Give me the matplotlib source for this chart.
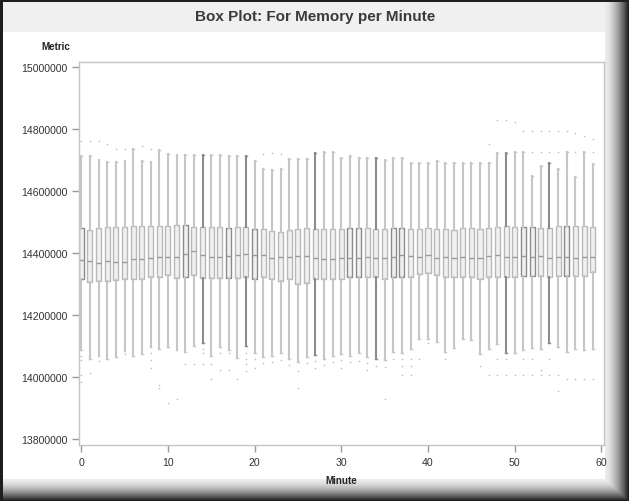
import matplotlib
matplotlib.use("Agg")
import matplotlib.pyplot as plt
import numpy as np

plt.rcParams['font.family'] = ['Liberation Sans', 'DejaVu Sans']

# Minute-by-minute memory statistics
minutes = list(range(60))

q3 = [14480000, 14475000, 14480000, 14483000, 14483000, 14485000, 14488000, 14488000, 14488000, 14488000,
      14488000, 14490000, 14490000, 14485000, 14485000, 14485000, 14485000, 14482000, 14483000, 14485000,
      14478000, 14477000, 14472000, 14470000, 14475000, 14477000, 14481000, 14477000, 14477000, 14477000,
      14477000, 14481000, 14481000, 14481000, 14477000, 14477000, 14481000, 14481000, 14477000, 14477000,
      14481000, 14477000, 14477000, 14475000, 14481000, 14481000, 14477000, 14481000, 14485000, 14488000,
      14485000, 14485000, 14483000, 14481000, 14481000, 14488000, 14488000, 14488000, 14488000, 14485000]

medians = [14377000, 14374000, 14370000, 14374000, 14372000, 14372000, 14383000, 14381000, 14385000, 14387000,
           14389000, 14389000, 14396000, 14406000, 14394000, 14389000, 14389000, 14391000, 14394000, 14399000,
           14395000, 14395000, 14386000, 14389000, 14389000, 14391000, 14391000, 14386000, 14383000, 14382000,
           14386000, 14386000, 14386000, 14388000, 14386000, 14386000, 14388000, 14395000, 14391000, 14389000,
           14393000, 14386000, 14389000, 14386000, 14389000, 14384000, 14386000, 14391000, 14395000, 14389000,
           14389000, 14391000, 14389000, 14391000, 14386000, 14389000, 14389000, 14386000, 14389000, 14389000]

q1 = [14316000, 14307000, 14311000, 14311000, 14313000, 14316000, 14316000, 14316000, 14325000, 14325000,
      14329000, 14319000, 14322000, 14329000, 14319000, 14319000, 14319000, 14319000, 14319000, 14325000,
      14316000, 14324000, 14316000, 14311000, 14316000, 14302000, 14305000, 14316000, 14316000, 14316000,
      14316000, 14324000, 14324000, 14322000, 14322000, 14316000, 14324000, 14324000, 14322000, 14332000,
      14335000, 14330000, 14324000, 14324000, 14324000, 14322000, 14316000, 14324000, 14324000, 14324000,
      14324000, 14327000, 14327000, 14327000, 14324000, 14327000, 14327000, 14327000, 14327000, 14338000]

whisker_hi = [14713000, 14713000, 14701000, 14694000, 14694000, 14698000, 14735000, 14698000, 14694000, 14732000,
              14720000, 14717000, 14717000, 14717000, 14717000, 14717000, 14717000, 14713000, 14713000, 14713000,
              14698000, 14671000, 14668000, 14671000, 14703000, 14703000, 14703000, 14722000, 14726000, 14726000,
              14706000, 14712000, 14706000, 14706000, 14706000, 14700000, 14706000, 14706000, 14690000, 14692000,
              14692000, 14698000, 14690000, 14690000, 14690000, 14690000, 14690000, 14690000, 14722000, 14722000,
              14727000, 14727000, 14649000, 14680000, 14692000, 14673000, 14727000, 14646000, 14727000, 14687000]

whisker_lo = [14088000, 14058000, 14069000, 14060000, 14067000, 14085000, 14069000, 14074000, 14099000, 14090000,
              14099000, 14088000, 14082000, 14101000, 14110000, 14069000, 14099000, 14088000, 14064000, 14101000,
              14080000, 14065000, 14070000, 14078000, 14060000, 14050000, 14065000, 14072000, 14058000, 14068000,
              14075000, 14070000, 14078000, 14066000, 14060000, 14055000, 14082000, 14080000, 14093000, 14125000,
              14125000, 14114000, 14083000, 14096000, 14125000, 14119000, 14074000, 14093000, 14106000, 14080000,
              14080000, 14088000, 14096000, 14090000, 14112000, 14098000, 14083000, 14090000, 14088000, 14093000]

# Outlying points per minute
outliers = [
    [14762000, 14070000, 14055000, 14006000, 13985000], [14762000, 14013000], [14762000, 14053000],
    [14751000], [14735000], [14735000, 14074000], [], [14746000], [14735000, 14077000, 14056000, 14031000],
    [13974000, 13965000], [13916000], [13931000], [14042000], [14042000],
    [14090000, 14077000, 14042000], [14042000, 13994000], [14077000, 14024000], [14077000, 14024000],
    [13994000], [14077000, 14058000, 14042000, 14020000], [14060000, 14030000], [14719000, 14045000],
    [14722000, 14050000], [14719000, 14055000], [14040000], [14020000, 13965000], [14045000],
    [14052000, 14030000], [14040000], [14050000], [14055000, 14030000], [14048000], [14052000],
    [14045000, 14025000], [14038000], [14035000, 13930000], [14060000], [14058000, 14036000, 14006000],
    [14058000, 14036000, 14006000], [14058000], [14112000], [], [14058000], [], [], [],
    [14036000], [14752000, 14006000], [14829000, 14058000, 14006000], [14829000, 14058000, 14006000],
    [14822000, 14006000], [14795000, 14058000, 14006000], [14795000, 14726000, 14058000, 14006000],
    [14795000, 14726000, 14024000, 14006000], [14795000, 14726000, 14058000, 14006000],
    [14795000, 14726000, 13956000, 14006000], [14795000, 13994000], [14787000, 14726000, 13994000],
    [14778000, 13994000], [14768000, 14726000, 13994000],
]

dark_box = [0, 12, 17, 20, 31, 32, 36, 37, 51, 52, 56]
dark_whisker = [14, 19, 27, 34, 49, 54]

fig = plt.figure(figsize=(6.29, 5.02), dpi=100)

# window frame with drop shadow
H, W = 502, 629
bg = np.ones((H, W))
bg[3:33, 3:609] = 0.94
bg[:, :3] = 0.12
bg[:3, :] = 0.12
ramp_x = np.linspace(0, 1, W - 605) ** 1.6
bg[:, 605:] = np.minimum(bg[:, 605:], 0.92 - 0.8 * ramp_x)
ramp_y = np.linspace(0, 1, H - 480) ** 1.6
bg[480:, :] = np.minimum(bg[480:, :], (0.92 - 0.8 * ramp_y)[:, None])
bgax = fig.add_axes([0, 0, 1, 1], zorder=-10)
bgax.imshow(bg, cmap='gray', vmin=0, vmax=1, aspect='auto', interpolation='bilinear')
bgax.axis('off')

ax = fig.add_axes([79 / W, 1 - 446 / H, 525 / W, 383.5 / H])
ax.set_facecolor('white')

stats = []
for i in range(len(minutes)):
    stats.append(dict(med=medians[i], q1=q1[i], q3=q3[i],
                      whislo=whisker_lo[i], whishi=whisker_hi[i], fliers=outliers[i]))

for i, st in enumerate(stats):
    edge = '#8a8a8a' if i in dark_box else '#b8b8b8'
    wcol = '#8c8c8c' if i in dark_whisker else '#c6c6c6'
    ax.bxp([st], positions=[minutes[i]], widths=0.58, patch_artist=True,
           boxprops=dict(facecolor='#f0f0f0', edgecolor=edge, linewidth=1.0),
           medianprops=dict(color='#9a9a9a', linewidth=1.0),
           whiskerprops=dict(color=wcol, linewidth=1.5),
           capprops=dict(color=wcol, linewidth=1.0),
           capwidths=0.22,
           flierprops=dict(marker='o', markersize=1.2, markerfacecolor='#c0c0c0',
                           markeredgecolor='none'),
           manage_ticks=False)

ax.set_xlim(-0.25, 60.3)
ax.set_ylim(13782000, 15018000)
ax.set_xticks(range(0, 61, 10))
ax.set_yticks(np.arange(13800000, 15000001, 200000))
ax.set_yticklabels([f"{int(v)}" for v in np.arange(13800000, 15000001, 200000)])

for sp in ax.spines.values():
    sp.set_color('#c4c4c4')
    sp.set_linewidth(1.0)
ax.tick_params(colors='#9a9a9a', labelcolor='#333333', labelsize=7.6, length=5, width=1)

ax.set_xlabel("Minute", fontsize=7, fontweight='bold', color='#222222', labelpad=6)
fig.text(56 / W, 1 - 47 / H, "Metric", fontsize=7, fontweight='bold', color='#222222',
         ha='center', va='center')
fig.text(315 / W, 1 - 17 / H, "Box Plot: For Memory per Minute", fontsize=11,
         fontweight='bold', color='#3a3a3a', ha='center', va='center')

fig.savefig("out.png", dpi=100)
